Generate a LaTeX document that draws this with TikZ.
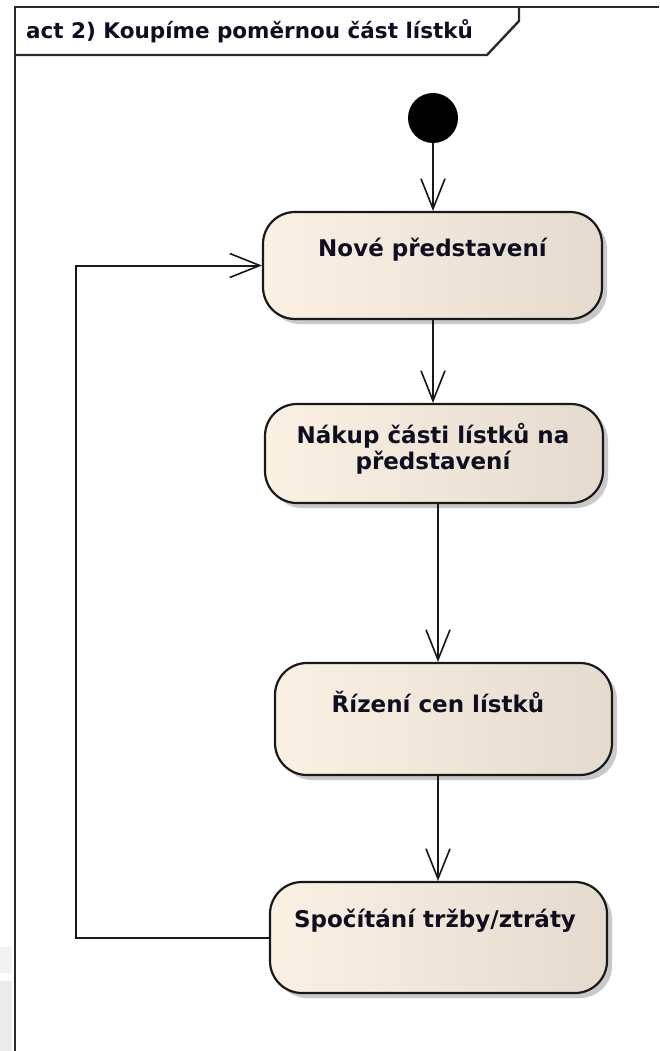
\documentclass[tikz,border=0pt]{standalone}
\usepackage{fontspec}
\newfontfamily\djv{DejaVu Sans}
\usetikzlibrary{arrows.meta,shadows}
\definecolor{boxL}{HTML}{FBF1E3}
\definecolor{boxR}{HTML}{E4DBCE}
\definecolor{txt}{HTML}{0E0E20}
\definecolor{frm}{HTML}{2A2A2A}
\begin{document}
\begin{tikzpicture}[x=1pt,y=-1pt,
  actbox/.style={draw=black!90, line width=2.2pt, rounded corners=32pt,
    left color=boxL, middle color=boxL, right color=boxR,
    drop shadow={shadow xshift=5pt, shadow yshift=-5pt, fill=black!35, opacity=0.6},
    inner sep=0pt},
  acttext/.style={font=\djv\bfseries\fontsize{23}{26}\selectfont, text=txt, align=center, inner sep=0pt},
  flow/.style={line width=2pt, draw=black!90, -{Straight Barb[length=30pt,width=24pt,line width=1.6pt]}},
  frame/.style={line width=2.4pt, draw=frm}]
\useasboundingbox[fill=white] (0,0) rectangle (659,1051);
% grey strips at the left edge
\fill[fill=black!5] (0,947) rectangle (12,973);
\fill[fill=black!8] (0,981) rectangle (12,1051);
% frame
\draw[frame] (659,7) -- (15,7) -- (15,1051);
\draw[frame] (15,55) -- (487,55) -- (519,21) -- (519,7);
\node[anchor=west, font=\djv\bfseries\fontsize{21.5}{24}\selectfont, text=txt, inner sep=0pt] (title) at (26,31) {act 2) Koupíme poměrnou část lístků};
% initial node
\node[circle, fill=black, minimum size=50pt, inner sep=0pt] (init) at (433,118) {};
% activities
\node[actbox, minimum width=339pt, minimum height=107pt] (b1) at (432.5,265.5) {};
\node[acttext] (t1) at (432.5,250) {Nové představení};
\node[actbox, minimum width=338pt, minimum height=99pt] (b2) at (434,453.5) {};
\node[acttext] (t2) at (433,449) {Nákup části lístků na\\představení};
\node[actbox, minimum width=337pt, minimum height=112pt] (b3) at (443.5,719) {};
\node[acttext] (t3) at (438,702) {Řízení cen lístků};
\node[actbox, minimum width=337pt, minimum height=111pt] (b4) at (438.5,937.5) {};
\node[acttext] (t4) at (435,921) {Spočítání tržby/ztráty};
\coordinate (ax) at (438,0);
\coordinate (lp) at (76,0);
% connectors
\draw[flow] (init.south) -- (b1.north -| init);
\draw[flow] (b1.south -| init) -- (b2.north -| init);
\draw[flow] (b2.south -| ax) -- (b3.north -| ax);
\draw[flow] (b3.south -| ax) -- (b4.north -| ax);
\draw[flow] (b4.west) -- (b4.west -| lp) -- (b1.west -| lp) -- (b1.west);
\end{tikzpicture}
\end{document}
